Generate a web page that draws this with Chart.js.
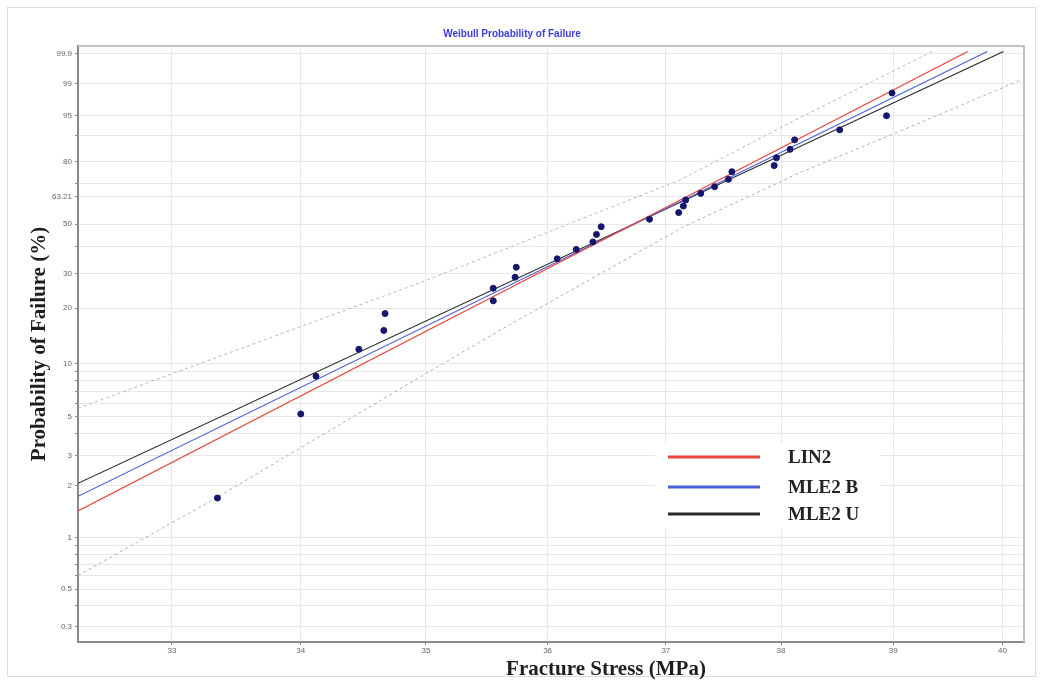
<!DOCTYPE html>
<html>
<head>
<meta charset="utf-8">
<script src="https://cdn.jsdelivr.net/npm/chart.js@4.4.1/dist/chart.umd.min.js"></script>
<style>
  html, body { margin: 0; padding: 0; background: #fff; }
  #wrap { width: 1043px; height: 684px; }
</style>
</head>
<body>
<div id="wrap"><canvas id="weibull" width="1043" height="684"></canvas></div>
<script>
// Axis ticks
const stressTicks = [33, 34, 35, 36, 37, 38, 39, 40];
const probLabels  = [99.9, 99, 95, 80, 63.21, 50, 30, 20, 10, 5, 3, 2, 1, 0.5, 0.3];
const probGrid    = [0.3, 0.4, 0.5, 0.6, 0.7, 0.8, 0.9, 1, 2, 3, 4, 5, 6, 7, 8, 9, 10,
                     20, 30, 40, 50, 63.21, 70, 80, 90, 95, 99, 99.9];
const stressMin = 32.29, stressMax = 40.2;
const probMin = 0.245, probMax = 99.954;

// Specimens (MPa, % failed)
const failStress = [33.35, 34.00, 34.12, 34.46, 34.66, 34.67, 35.55, 35.55, 35.73, 35.74,
                    36.08, 36.24, 36.38, 36.41, 36.45, 36.86, 37.11, 37.15, 37.17, 37.30,
                    37.42, 37.54, 37.57, 37.94, 37.96, 38.08, 38.12, 38.52, 38.94, 38.99];
const failProb   = [1.7, 5.2, 8.5, 12.0, 15.2, 18.7, 21.8, 25.3, 28.7, 32.1,
                    35.2, 38.9, 42.0, 45.3, 48.8, 52.3, 55.5, 58.7, 61.7, 65.0,
                    68.3, 71.9, 75.5, 78.3, 81.7, 85.1, 88.5, 91.6, 95.0, 98.3];

// Fitted lines
const lin2Stress = [32.29, 39.68];  const lin2Prob = [1.43, 99.92];
const mleBStress = [32.29, 39.86];  const mleBProb = [1.74, 99.92];
const mleUStress = [32.29, 40.01];  const mleUProb = [2.07, 99.92];

// Confidence bounds
const upperStress = [32.29, 33.06, 34.95, 37.12, 38.16, 39.38];
const upperProb   = [5.6, 9.1, 26.9, 71.6, 94.5, 99.93];
const lowerStress = [32.29, 33.35, 34.95, 35.61, 37.15, 38.16, 39.24, 40.16];
const lowerProb   = [0.60, 1.72, 8.4, 15.3, 48.7, 74.9, 93.4, 99.2];

// Weibull probability transform
const wb  = p => Math.log(-Math.log(1 - p / 100));
const pts = (xs, ps) => xs.map((x, i) => ({ x, y: wb(ps[i]) }));

const serif = "'Liberation Serif', 'Times New Roman', serif";

const lineSet = (label, xs, ps, color, extra) => Object.assign({
  label, data: pts(xs, ps), showLine: true, borderColor: color, backgroundColor: color,
  borderWidth: 1.2, pointRadius: 0, tension: 0, order: 2, legend: true
}, extra || {});

// Frame, x title and legend
const decor = {
  id: 'decor',
  beforeDraw(chart) {
    const c = chart.ctx;
    c.save();
    c.fillStyle = '#fff';
    c.fillRect(0, 0, chart.width, chart.height);
    c.strokeStyle = '#dcdcdc';
    c.lineWidth = 1;
    c.strokeRect(7.5, 7.5, chart.width - 15, chart.height - 15);
    c.restore();
  },
  afterDraw(chart) {
    const { ctx: c, chartArea: a } = chart;
    c.save();
    c.strokeStyle = '#c4bfc8';
    c.lineWidth = 2;
    c.beginPath();
    c.moveTo(a.left, a.top); c.lineTo(a.right, a.top); c.lineTo(a.right, a.bottom);
    c.stroke();

    c.fillStyle = '#1e1e1e';
    c.font = 'bold 21px ' + serif;
    c.textAlign = 'center';
    c.textBaseline = 'middle';
    c.fillText('Fracture Stress (MPa)', 606, 670);

    const items = chart.data.datasets.filter(d => d.legend && !d.hideInLegend);
    c.fillStyle = '#fff';
    c.fillRect(655, 443, 225, 86);
    items.forEach((d, i) => {
      const y = [457, 487, 514][i];
      c.strokeStyle = d.borderColor;
      c.lineWidth = 3;
      c.beginPath(); c.moveTo(668, y); c.lineTo(760, y); c.stroke();
      c.fillStyle = '#222';
      c.font = 'bold 19px ' + serif;
      c.textAlign = 'left';
      c.fillText(d.label, 788, y + 1);
    });
    c.restore();
  }
};

new Chart(document.getElementById('weibull'), {
  type: 'scatter',
  data: {
    datasets: [
      { label: 'Data', data: pts(failStress, failProb), pointRadius: 3,
        pointBackgroundColor: '#15156e', pointBorderColor: '#15156e', order: 1 },
      lineSet('LIN2', lin2Stress, lin2Prob, '#e8453c'),
      lineSet('MLE2 B', mleBStress, mleBProb, '#4b5fd6'),
      lineSet('MLE2 U', mleUStress, mleUProb, '#2b2b2b'),
      lineSet('Upper', upperStress, upperProb, '#b8b8b8',
              { borderDash: [3, 3], borderWidth: 1, hideInLegend: true }),
      lineSet('Lower', lowerStress, lowerProb, '#b0b0b0',
              { borderDash: [3, 3], borderWidth: 1, hideInLegend: true })
    ]
  },
  options: {
    responsive: false,
    animation: false,
    events: [],
    layout: { padding: { left: 0, right: 19, top: 0, bottom: 0 } },
    plugins: {
      legend: { display: false },
      tooltip: { enabled: false },
      title: {
        display: true, text: 'Weibull Probability of Failure', color: '#3c3ce0',
        font: { family: 'Arial, Liberation Sans, sans-serif', size: 10, weight: 'bold' },
        padding: { top: 28, bottom: 6 }
      }
    },
    scales: {
      x: {
        type: 'logarithmic', min: stressMin, max: stressMax,
        afterBuildTicks: s => { s.ticks = stressTicks.map(v => ({ value: v })); },
        afterFit: s => { s.height = 42; },
        ticks: { callback: v => String(v), color: '#666', font: { size: 8 }, padding: 1, maxRotation: 0, autoSkip: false },
        grid: { color: '#e8e8e8', tickLength: 3, tickColor: '#888' },
        border: { color: '#8a8a8a', width: 2 }
      },
      y: {
        type: 'linear', min: wb(probMin), max: wb(probMax),
        afterBuildTicks: s => { s.ticks = probGrid.map(p => ({ value: wb(p), p })); },
        afterFit: s => { s.width = 78; },
        ticks: {
          callback: (v, i, ticks) => probLabels.includes(ticks[i].p) ? String(ticks[i].p) : '',
          color: '#666', font: { size: 8 }, padding: 3, autoSkip: false
        },
        grid: { color: '#e8e8e8', tickLength: 3, tickColor: '#888' },
        border: { color: '#8a8a8a', width: 2 },
        title: {
          display: true, text: 'Probability of Failure (%)', color: '#1e1e1e',
          font: { family: serif, size: 21, weight: 'bold' }, padding: { top: 27 }
        }
      }
    }
  },
  plugins: [decor]
});
</script>
</body>
</html>
